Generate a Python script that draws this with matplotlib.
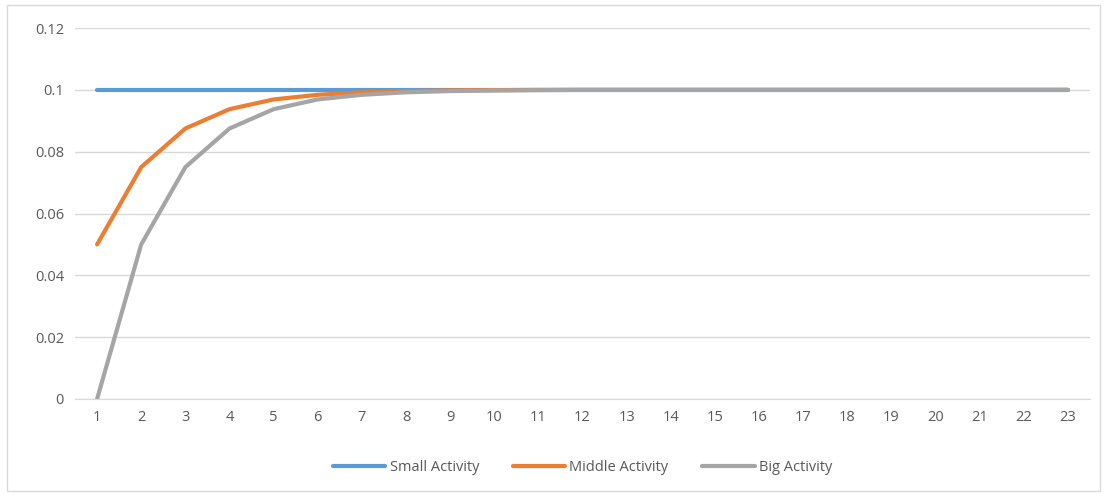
import matplotlib.pyplot as plt
from matplotlib.patches import Rectangle

# data
steps = list(range(1, 24))
small_activity = [0.1] * 23
middle_activity = [0.05, 0.075, 0.0875, 0.09375, 0.0969, 0.0984, 0.0992, 0.0996, 0.0998, 0.0999,
                   0.1, 0.1, 0.1, 0.1, 0.1, 0.1, 0.1, 0.1, 0.1, 0.1, 0.1, 0.1, 0.1]
big_activity = [0.0, 0.05, 0.075, 0.0875, 0.09375, 0.0969, 0.0984, 0.0992, 0.0996, 0.0998, 0.0999,
                0.1, 0.1, 0.1, 0.1, 0.1, 0.1, 0.1, 0.1, 0.1, 0.1, 0.1, 0.1]
y_ticks = [0, 0.02, 0.04, 0.06, 0.08, 0.1, 0.12]
y_labels = ["0", "0.02", "0.04", "0.06", "0.08", "0.1", "0.12"]

plt.rcParams['font.family'] = ['Open Sans', 'DejaVu Sans']

fig = plt.figure(figsize=(11.1, 4.96), dpi=100)
ax = fig.add_axes([0.0676, 0.1956, 0.9144, 0.7479])

# outer chart border
fig.patches.append(Rectangle((0.006, 0.01), 0.985, 0.98, transform=fig.transFigure,
                             fill=False, edgecolor='#d9d9d9', linewidth=1))

lw = 3
ax.plot(steps, small_activity, color='#5B9BD5', linewidth=lw, label='Small Activity', solid_capstyle='round')
ax.plot(steps, middle_activity, color='#ED7D31', linewidth=lw, label='Middle Activity', solid_capstyle='round')
ax.plot(steps, big_activity, color='#A5A5A5', linewidth=lw, label='Big Activity', solid_capstyle='round')

ax.set_xlim(0.5, 23.5)
ax.set_ylim(0, 0.12)
ax.set_xticks(steps)
ax.set_yticks(y_ticks)
ax.set_yticklabels(y_labels)
ax.tick_params(axis='both', length=0, labelsize=10.5, colors='#595959', pad=8)
ax.grid(True, axis='y', color='#d9d9d9', linewidth=1)
ax.set_axisbelow(True)
for s in ['top', 'right', 'left']:
    ax.spines[s].set_visible(False)
ax.spines['bottom'].set_color('#d9d9d9')

leg = ax.legend(loc='upper center', bbox_to_anchor=(0.5, -0.13), ncol=3, frameon=False,
                fontsize=10.5, handlelength=3.6, columnspacing=2.3, handletextpad=0.3)
for t in leg.get_texts():
    t.set_color('#595959')

fig.savefig('out.png', dpi=100)
